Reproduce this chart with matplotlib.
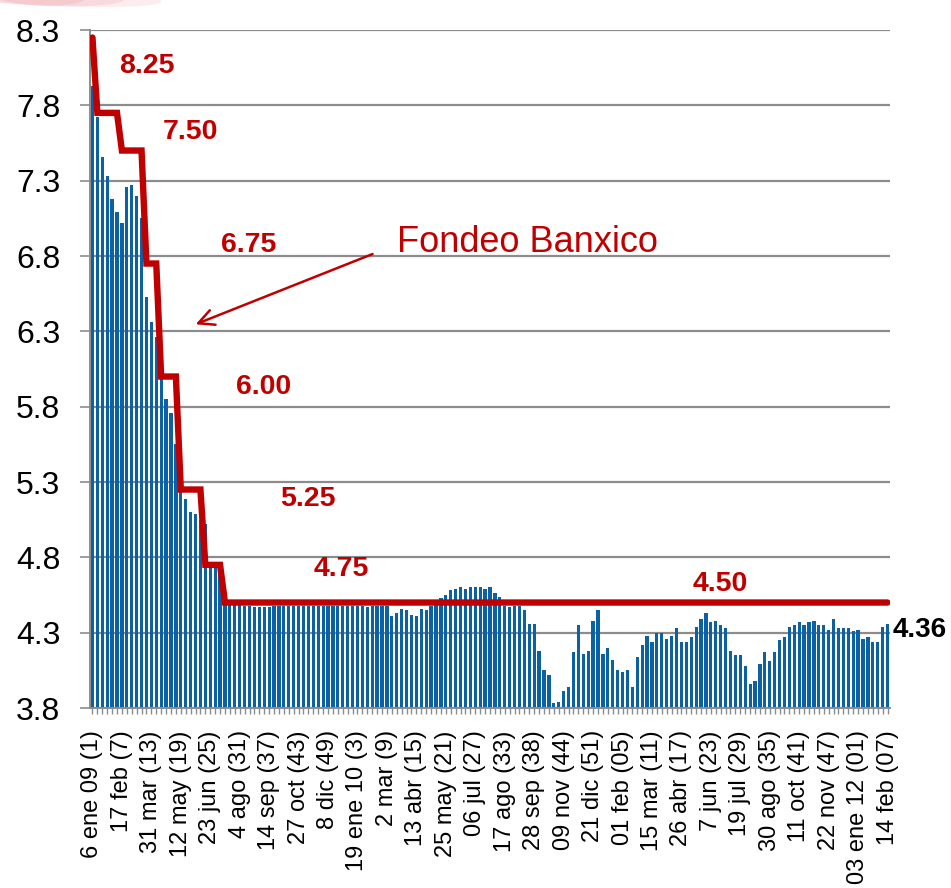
import numpy as np
import matplotlib
matplotlib.use('Agg')
import matplotlib.pyplot as plt
from matplotlib.patches import Ellipse

plt.rcParams['font.family'] = ['Liberation Sans', 'DejaVu Sans']

# weekly rate values (bars), 6 ene 09 ... 14 feb 12
tasa = [
    7.93, 7.72, 7.46, 7.33, 7.18, 7.09, 7.02, 7.26, 7.27, 7.20,
    7.05, 6.53, 6.36, 6.26, 6.05, 5.85, 5.76, 5.55, 5.35, 5.19,
    5.10, 5.09, 5.05, 5.02, 4.74, 4.74, 4.74, 4.50, 4.49, 4.49,
    4.49, 4.48, 4.48, 4.47, 4.47, 4.47, 4.47, 4.48, 4.48, 4.48,
    4.48, 4.48, 4.48, 4.48, 4.48, 4.48, 4.48, 4.48, 4.48, 4.48,
    4.48, 4.48, 4.48, 4.48, 4.48, 4.48, 4.47, 4.48, 4.48, 4.48,
    4.48, 4.41, 4.43, 4.46, 4.45, 4.42, 4.41, 4.46, 4.45, 4.48,
    4.49, 4.53, 4.55, 4.58, 4.59, 4.60, 4.59, 4.60, 4.60, 4.60,
    4.59, 4.60, 4.56, 4.54, 4.48, 4.47, 4.48, 4.48, 4.45, 4.36,
    4.36, 4.18, 4.05, 4.02, 3.83, 3.84, 3.91, 3.94, 4.17, 4.35,
    4.16, 4.18, 4.38, 4.45, 4.16, 4.20, 4.12, 4.05, 4.04, 4.05,
    3.94, 4.14, 4.22, 4.28, 4.24, 4.30, 4.30, 4.26, 4.28, 4.33,
    4.24, 4.24, 4.27, 4.34, 4.39, 4.43, 4.37, 4.38, 4.35, 4.33,
    4.18, 4.15, 4.15, 4.08, 3.96, 3.98, 4.09, 4.17, 4.11, 4.17,
    4.25, 4.27, 4.34, 4.35, 4.37, 4.35, 4.37, 4.38, 4.35, 4.35,
    4.32, 4.39, 4.33, 4.33, 4.33, 4.31, 4.32, 4.26, 4.27, 4.24,
    4.24, 4.34, 4.36,
]

# Fondeo Banxico: level and number of weeks at that level
fondeo_niveles = [8.25, 7.75, 7.50, 6.75, 6.00, 5.25, 4.75, 4.50]
fondeo_semanas = [1, 5, 5, 3, 4, 5, 4, 136]
fondeo = np.repeat(fondeo_niveles, fondeo_semanas)

etiquetas = ['6 ene 09 (1)', '17 feb (7)', '31 mar (13)', '12 may (19)', '23 jun (25)',
             '4 ago (31)', '14 sep (37)', '27 oct (43)', '8 dic (49)', '19 ene 10 (3)',
             '2 mar (9)', '13 abr (15)', '25 may (21)', '06 jul (27)', '17 ago (33)',
             '28 sep (38)', '09 nov (44)', '21 dic (51)', '01 feb (05)', '15 mar (11)',
             '26 abr (17)', '7 jun (23)', '19 jul (29)', '30 ago (35)', '11 oct (41)',
             '22 nov (47)', '03 ene 12 (01)', '14 feb (07)']

# text labels for each rate level: (text, x, y)
rate_labels = [('8.25', 11.1, 8.06), ('7.50', 19.9, 7.62), ('6.75', 31.9, 6.87),
               ('6.00', 34.95, 5.93), ('5.25', 43.8, 5.19), ('4.75', 50.7, 4.72),
               ('4.50', 128.0, 4.62)]

RED = '#C00000'
GRAY = '#8C8C8C'

x = np.arange(len(tasa))

fig = plt.figure(figsize=(9.51, 8.88), dpi=100)
ax = fig.add_axes([90 / 951, 1 - 708 / 888, 800 / 951, 678 / 888])

# faint pink swoosh at the top-left corner
for w, a in [(0.26, 0.18), (0.18, 0.22), (0.10, 0.25)]:
    fig.patches.append(Ellipse((0.04, 1.005), w, 0.022, angle=-3, transform=fig.transFigure,
                               color='#EE9BA3', alpha=a, lw=0, zorder=0))

ax.bar(x, np.array(tasa) - 3.8, bottom=3.8, width=0.66, color='#0B61A4', zorder=2)
ax.plot(x, fondeo, color=RED, lw=4.6, solid_joinstyle='miter', solid_capstyle='round', zorder=3)

ax.set_xlim(-0.5, len(tasa) - 0.5)
ax.set_ylim(3.8, 8.3)
ax.set_yticks(np.arange(3.8, 8.31, 0.5))
ax.set_yticklabels([f'{v:.1f}' for v in np.arange(3.8, 8.31, 0.5)], fontsize=23)
ax.yaxis.grid(True, color=GRAY, lw=1.6, zorder=1)
ax.set_axisbelow(True)

ax.set_xticks(x)
labs = [''] * len(tasa)
for k, t in enumerate(etiquetas):
    labs[k * 6] = t
ax.set_xticklabels(labs, rotation=90, fontsize=17, va='top', ha='center')

ax.tick_params(axis='y', length=7.5, width=1.2, color=GRAY, pad=14)
ax.tick_params(axis='x', length=4, width=1.0, color=GRAY, pad=12)

for s in ['top', 'right']:
    ax.spines[s].set_visible(False)
ax.spines['left'].set_color(GRAY)
ax.spines['bottom'].set_color(GRAY)
ax.spines['left'].set_linewidth(1.4)
ax.spines['bottom'].set_linewidth(1.4)

for t, xx, yy in rate_labels:
    ax.text(xx, yy, t, color=RED, fontsize=20.5, fontweight='bold', ha='center', va='center', zorder=4)

ax.text(163.1, 4.32, '4.36', color='black', fontsize=20, fontweight='bold',
        ha='left', va='center', clip_on=False)

ax.annotate('', xy=(20.5, 6.34), xytext=(57.6, 6.82),
            arrowprops=dict(arrowstyle='->', color=RED, lw=1.8, mutation_scale=28))
ax.text(88.6, 6.89, 'Fondeo Banxico', color=RED, fontsize=26, ha='center', va='center')

fig.savefig('out.png', dpi=100)
